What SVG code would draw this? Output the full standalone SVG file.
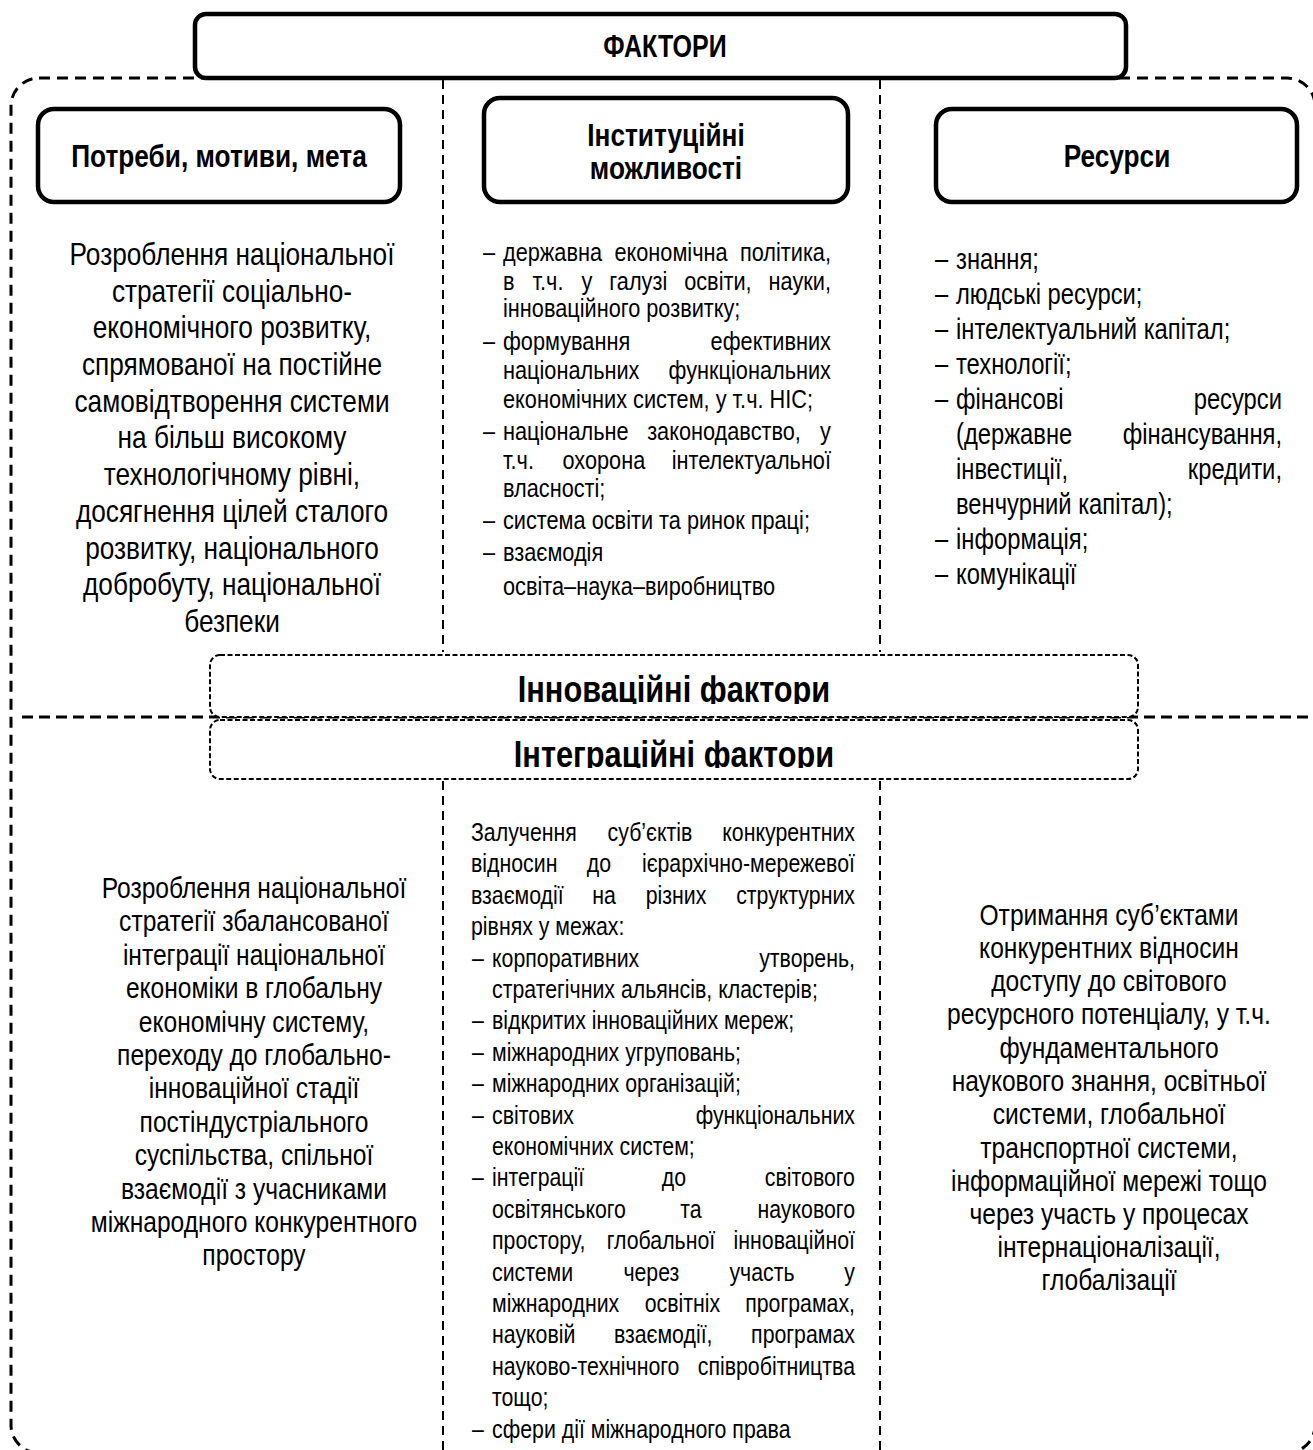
<svg xmlns="http://www.w3.org/2000/svg" width="1313" height="1450" viewBox="0 0 1313 1450">
  <style>
    text { font-family: "Liberation Sans", Arial, sans-serif; fill: #000; }
    .hdr { font-size: 32px; font-weight: bold; text-anchor: middle; }
    .big { font-size: 37.5px; font-weight: bold; text-anchor: middle; }
    .c32 { font-size: 32px; text-anchor: middle; }
    .c30 { font-size: 30px; text-anchor: middle; }
    .r29 { font-size: 29px; }
    .l26 { font-size: 26px; }
    .l265 { font-size: 26.5px; }
    .e { text-anchor: end; }
    .m { text-anchor: middle; }
    .box { fill: #fff; stroke: #000; stroke-width: 4.5; }
    .dbox { fill: #fff; stroke: #000; stroke-width: 2; stroke-dasharray: 5 2.5; }
    .outer { fill: none; stroke: #000; stroke-width: 3; stroke-dasharray: 11 7; }
    .div { fill: none; stroke: #000; stroke-width: 2; stroke-dasharray: 9 6; }
    .hline { fill: none; stroke: #000; stroke-width: 3; stroke-dasharray: 11 6; }
  </style>
  <defs>
    <clipPath id="clipInno"><rect x="210" y="650" width="930" height="54"/></clipPath>
    <clipPath id="clipInteg"><rect x="210" y="719" width="930" height="49"/></clipPath>
  </defs>

  <rect width="1313" height="1450" fill="#fff"/>

  <!-- dashed frame, column dividers and the row separator -->
  <g id="connectors">
    <rect class="outer" x="11" y="78" width="1304" height="1375" rx="28" ry="28"/>
    <line class="div" x1="443" y1="80" x2="443" y2="652"/>
    <line class="div" x1="880" y1="80" x2="880" y2="652"/>
    <line class="div" x1="443" y1="781" x2="443" y2="1450"/>
    <line class="div" x1="880" y1="781" x2="880" y2="1450"/>
    <line class="hline" x1="22" y1="717" x2="1313" y2="717"/>
  </g>

  <!-- all text is set in a condensed face: x coordinates below are divided by 0.82 -->

  <!-- title -->
  <g id="factors">
    <rect class="box" x="195" y="14" width="931" height="64" rx="11"/>
    <g transform="scale(0.82,1)">
      <text class="hdr" x="810.98" y="57" style="font-size:30.5px">ФАКТОРИ</text>
    </g>
  </g>

  <!-- column headers -->
  <g id="needs">
    <rect class="box" x="38" y="109" width="362" height="93" rx="16"/>
    <g transform="scale(0.82,1)">
      <text class="hdr" x="267.07" y="167">Потреби, мотиви, мета</text>
    </g>
  </g>
  <g id="institutional">
    <rect class="box" x="484" y="98" width="364" height="104" rx="16"/>
    <g transform="scale(0.82,1)">
      <text class="hdr" x="812.20" y="146">Інституційні</text>
      <text class="hdr" x="812.20" y="179">можливості</text>
    </g>
  </g>
  <g id="resources">
    <rect class="box" x="936" y="109" width="361" height="93" rx="16"/>
    <g transform="scale(0.82,1)">
      <text class="hdr" x="1362.20" y="167">Ресурси</text>
    </g>
  </g>

  <!-- top-left text -->
  <g id="needs-text" transform="scale(0.82,1)">
    <text class="c32" x="282.93" y="265">Розроблення національної</text>
    <text class="c32" x="282.93" y="302">стратегії соціально-</text>
    <text class="c32" x="282.93" y="338">економічного розвитку,</text>
    <text class="c32" x="282.93" y="375">спрямованої на постійне</text>
    <text class="c32" x="282.93" y="412">самовідтворення системи</text>
    <text class="c32" x="282.93" y="448">на більш високому</text>
    <text class="c32" x="282.93" y="485">технологічному рівні,</text>
    <text class="c32" x="282.93" y="522">досягнення цілей сталого</text>
    <text class="c32" x="282.93" y="559">розвитку, національного</text>
    <text class="c32" x="282.93" y="595">добробуту, національної</text>
    <text class="c32" x="282.93" y="632">безпеки</text>
  </g>

  <!-- institutional list -->
  <g id="institutional-text" transform="scale(0.82,1)">
    <text class="l265" x="589.02" y="261">–</text>
    <text class="l265" x="613.41" y="261">державна</text>
    <text class="l265 m" x="818.29" y="261">економічна</text>
    <text class="l265 e" x="1013.41" y="261">політика,</text>
    <text class="l265" x="613.41" y="290">в</text>
    <text class="l265 m" x="668.29" y="290">т.ч.</text>
    <text class="l265 m" x="715.85" y="290">у</text>
    <text class="l265 m" x="778.41" y="290">галузі</text>
    <text class="l265 m" x="875.49" y="290">освіти,</text>
    <text class="l265 e" x="1013.41" y="290">науки,</text>
    <text class="l265" x="613.41" y="317">інноваційного розвитку;</text>
    <text class="l265" x="589.02" y="350">–</text>
    <text class="l265" x="613.41" y="350">формування</text>
    <text class="l265 e" x="1013.41" y="350">ефективних</text>
    <text class="l265" x="613.41" y="379">національних</text>
    <text class="l265 e" x="1013.41" y="379">функціональних</text>
    <text class="l265" x="613.41" y="408">економічних систем, у т.ч. НІС;</text>
    <text class="l265" x="589.02" y="440">–</text>
    <text class="l265" x="613.41" y="440">національне</text>
    <text class="l265 m" x="882.93" y="440">законодавство,</text>
    <text class="l265 e" x="1013.41" y="440">у</text>
    <text class="l265" x="613.41" y="469">т.ч.</text>
    <text class="l265 m" x="736.46" y="469">охорона</text>
    <text class="l265 e" x="1013.41" y="469">інтелектуальної</text>
    <text class="l265" x="613.41" y="497">власності;</text>
    <text class="l265" x="589.02" y="529">–</text>
    <text class="l265" x="613.41" y="529">система освіти та ринок праці;</text>
    <text class="l265" x="589.02" y="561">–</text>
    <text class="l265" x="613.41" y="561">взаємодія</text>
    <text class="l265" x="613.41" y="595">освіта–наука–виробництво</text>
  </g>

  <!-- resources list -->
  <g id="resources-text" transform="scale(0.82,1)">
    <text class="r29" x="1140.24" y="269">–</text>
    <text class="r29" x="1165.85" y="269">знання;</text>
    <text class="r29" x="1140.24" y="304">–</text>
    <text class="r29" x="1165.85" y="304">людські ресурси;</text>
    <text class="r29" x="1140.24" y="339">–</text>
    <text class="r29" x="1165.85" y="339">інтелектуальний капітал;</text>
    <text class="r29" x="1140.24" y="374">–</text>
    <text class="r29" x="1165.85" y="374">технології;</text>
    <text class="r29" x="1140.24" y="409">–</text>
    <text class="r29" x="1165.85" y="409">фінансові</text>
    <text class="r29 e" x="1563.41" y="409">ресурси</text>
    <text class="r29" x="1165.85" y="444">(державне</text>
    <text class="r29 e" x="1563.41" y="444">фінансування,</text>
    <text class="r29" x="1165.85" y="479">інвестиції,</text>
    <text class="r29 e" x="1563.41" y="479">кредити,</text>
    <text class="r29" x="1165.85" y="514">венчурний капітал);</text>
    <text class="r29" x="1140.24" y="549">–</text>
    <text class="r29" x="1165.85" y="549">інформація;</text>
    <text class="r29" x="1140.24" y="584">–</text>
    <text class="r29" x="1165.85" y="584">комунікації</text>
  </g>

  <!-- middle band -->
  <g id="innovation">
    <rect class="dbox" x="210" y="655" width="928" height="62" rx="10"/>
    <g clip-path="url(#clipInno)">
      <g transform="scale(0.82,1)">
        <text class="big" x="821.95" y="702">Інноваційні фактори</text>
      </g>
    </g>
  </g>
  <g id="integration">
    <rect class="dbox" x="210" y="720" width="928" height="59" rx="10"/>
    <g clip-path="url(#clipInteg)">
      <g transform="scale(0.82,1)">
        <text class="big" x="821.95" y="767">Інтеграційні фактори</text>
      </g>
    </g>
  </g>

  <!-- bottom-left text -->
  <g id="integration-strategy" transform="scale(0.82,1)">
    <text class="c30" x="309.76" y="898">Розроблення національної</text>
    <text class="c30" x="309.76" y="931">стратегії збалансованої</text>
    <text class="c30" x="309.76" y="965">інтеграції національної</text>
    <text class="c30" x="309.76" y="998">економіки в глобальну</text>
    <text class="c30" x="309.76" y="1032">економічну систему,</text>
    <text class="c30" x="309.76" y="1065">переходу до глобально-</text>
    <text class="c30" x="309.76" y="1098">інноваційної стадії</text>
    <text class="c30" x="309.76" y="1132">постіндустріального</text>
    <text class="c30" x="309.76" y="1165">суспільства, спільної</text>
    <text class="c30" x="309.76" y="1199">взаємодії з учасниками</text>
    <text class="c30" x="309.76" y="1232">міжнародного конкурентного</text>
    <text class="c30" x="309.76" y="1265">простору</text>
  </g>

  <!-- bottom-middle list -->
  <g id="integration-networks" transform="scale(0.82,1)">
    <text class="l26" x="574.39" y="841">Залучення</text>
    <text class="l26 m" x="792.68" y="841">суб’єктів</text>
    <text class="l26 e" x="1042.68" y="841">конкурентних</text>
    <text class="l26" x="574.39" y="872">відносин</text>
    <text class="l26 m" x="730.49" y="872">до</text>
    <text class="l26 e" x="1042.68" y="872">ієрархічно-мережевої</text>
    <text class="l26" x="574.39" y="904">взаємодії</text>
    <text class="l26 m" x="736.59" y="904">на</text>
    <text class="l26 m" x="824.39" y="904">різних</text>
    <text class="l26 e" x="1042.68" y="904">структурних</text>
    <text class="l26" x="574.39" y="935">рівнях у межах:</text>
    <text class="l26" x="575.61" y="967">–</text>
    <text class="l26" x="600.00" y="967">корпоративних</text>
    <text class="l26 e" x="1042.68" y="967">утворень,</text>
    <text class="l26" x="600.00" y="998">стратегічних альянсів, кластерів;</text>
    <text class="l26" x="575.61" y="1029">–</text>
    <text class="l26" x="600.00" y="1029">відкритих інноваційних мереж;</text>
    <text class="l26" x="575.61" y="1061">–</text>
    <text class="l26" x="600.00" y="1061">міжнародних угруповань;</text>
    <text class="l26" x="575.61" y="1092">–</text>
    <text class="l26" x="600.00" y="1092">міжнародних організацій;</text>
    <text class="l26" x="575.61" y="1124">–</text>
    <text class="l26" x="600.00" y="1124">світових</text>
    <text class="l26 e" x="1042.68" y="1124">функціональних</text>
    <text class="l26" x="600.00" y="1155">економічних систем;</text>
    <text class="l26" x="575.61" y="1186">–</text>
    <text class="l26" x="600.00" y="1186">інтеграції</text>
    <text class="l26 m" x="821.95" y="1186">до</text>
    <text class="l26 e" x="1042.68" y="1186">світового</text>
    <text class="l26" x="600.00" y="1218">освітянського</text>
    <text class="l26 m" x="842.68" y="1218">та</text>
    <text class="l26 e" x="1042.68" y="1218">наукового</text>
    <text class="l26" x="600.00" y="1249">простору,</text>
    <text class="l26 m" x="806.10" y="1249">глобальної</text>
    <text class="l26 e" x="1042.68" y="1249">інноваційної</text>
    <text class="l26" x="600.00" y="1281">системи</text>
    <text class="l26 m" x="794.39" y="1281">через</text>
    <text class="l26 m" x="929.27" y="1281">участь</text>
    <text class="l26 e" x="1042.68" y="1281">у</text>
    <text class="l26" x="600.00" y="1312">міжнародних</text>
    <text class="l26 m" x="832.20" y="1312">освітніх</text>
    <text class="l26 e" x="1042.68" y="1312">програмах,</text>
    <text class="l26" x="600.00" y="1343">науковій</text>
    <text class="l26 m" x="808.78" y="1343">взаємодії,</text>
    <text class="l26 e" x="1042.68" y="1343">програмах</text>
    <text class="l26" x="600.00" y="1375">науково-технічного</text>
    <text class="l26 e" x="1042.68" y="1375">співробітництва</text>
    <text class="l26" x="600.00" y="1406">тощо;</text>
    <text class="l26" x="575.61" y="1438">–</text>
    <text class="l26" x="600.00" y="1438">сфери дії міжнародного права</text>
  </g>

  <!-- bottom-right text -->
  <g id="global-access" transform="scale(0.82,1)">
    <text class="c30" x="1352.44" y="925">Отримання суб’єктами</text>
    <text class="c30" x="1352.44" y="958">конкурентних відносин</text>
    <text class="c30" x="1352.44" y="991">доступу до світового</text>
    <text class="c30" x="1352.44" y="1024">ресурсного потенціалу, у т.ч.</text>
    <text class="c30" x="1352.44" y="1058">фундаментального</text>
    <text class="c30" x="1352.44" y="1091">наукового знання, освітньої</text>
    <text class="c30" x="1352.44" y="1124">системи, глобальної</text>
    <text class="c30" x="1352.44" y="1158">транспортної системи,</text>
    <text class="c30" x="1352.44" y="1191">інформаційної мережі тощо</text>
    <text class="c30" x="1352.44" y="1224">через участь у процесах</text>
    <text class="c30" x="1352.44" y="1257">інтернаціоналізації,</text>
    <text class="c30" x="1352.44" y="1290">глобалізації</text>
  </g>
</svg>
